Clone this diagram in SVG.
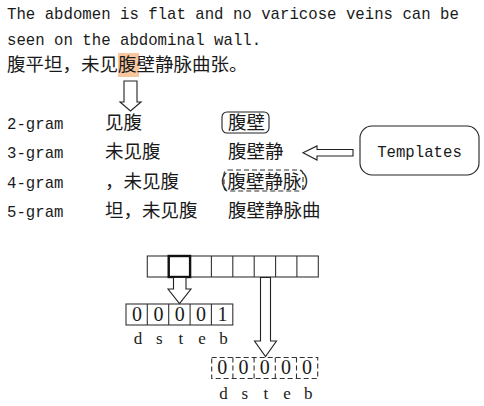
<svg xmlns="http://www.w3.org/2000/svg" width="484" height="406" viewBox="0 0 484 406">
<style>
.en{font-family:"Liberation Mono","DejaVu Sans Mono",monospace;font-size:15.7px;fill:#1a1a1a}
.zh{font-family:"Noto Sans CJK SC","Noto Sans CJK JP",sans-serif;font-size:18.5px;fill:#1a1a1a}
.dg{font-family:"Liberation Serif",serif;font-size:20px;fill:#1a1a1a;text-anchor:middle}
.lb{font-family:"Liberation Serif",serif;font-size:17px;fill:#1a1a1a;text-anchor:middle}
.arrow{fill:#fff;stroke:#222;stroke-width:1.1;stroke-linejoin:miter}
.cell{fill:#fff;stroke:#333;stroke-width:1.1}
.dash{fill:none;stroke:#333;stroke-width:1.1;stroke-dasharray:5,3}
</style>
<rect width="484" height="406" fill="#fff"/>
<g id="sentence">
<text class="en" x="7" y="18.5">The abdomen is flat and no varicose veins can be</text>
<text class="en" x="7" y="45">seen on the abdominal wall.</text>
<rect x="118" y="53" width="21" height="24" fill="#F8C79E"/>
<text class="zh" x="7" y="71">腹平坦，未见腹壁静脉曲张。</text>
</g>
<g id="ngram-labels">
<text class="en" x="7" y="128.5">2-gram</text>
<text class="en" x="7" y="158">3-gram</text>
<text class="en" x="7" y="187.5">4-gram</text>
<text class="en" x="7" y="217">5-gram</text>
</g>
<g id="left-ngrams">
<text class="zh" x="105" y="128.5">见腹</text>
<text class="zh" x="105" y="158">未见腹</text>
<text class="zh" x="105" y="187.5">，未见腹</text>
<text class="zh" x="105" y="217">坦，未见腹</text>
</g>
<g id="right-ngrams">
<rect x="222" y="112" width="47" height="21" rx="5" fill="none" stroke="#222" stroke-width="1.1"/>
<text class="zh" x="228" y="128.5">腹壁</text>
<text class="zh" x="228" y="158">腹壁静</text>
<rect x="224" y="170" width="79" height="21" rx="4" class="dash"/>
<text class="zh" x="209" y="187.5">（腹壁静脉）</text>
<text class="zh" x="228" y="217">腹壁静脉曲</text>
</g>
<g id="templates">
<rect x="360" y="126" width="119" height="49" rx="12" fill="#fff" stroke="#222" stroke-width="1.1"/>
<text class="en" x="419.5" y="156.5" text-anchor="middle">Templates</text>
</g>
<g id="char-grid">
<rect class="cell" x="147.3" y="256" width="171" height="21"/>
<path d="M168.7 256V277M190.1 256V277M211.4 256V277M232.8 256V277M254.2 256V277M275.6 256V277M296.9 256V277" stroke="#333" stroke-width="1.1" fill="none"/>
<rect x="168.7" y="256" width="21.4" height="21" fill="none" stroke="#111" stroke-width="2.4"/>
</g>
<g id="vector-1">
<rect class="cell" x="126" y="304" width="106.8" height="21"/>
<path d="M147.3 304V325M168.7 304V325M190.1 304V325M211.4 304V325" stroke="#333" stroke-width="1.1" fill="none"/>
<text class="dg" x="137" y="320.5">0</text>
<text class="dg" x="158.4" y="320.5">0</text>
<text class="dg" x="179.8" y="320.5">0</text>
<text class="dg" x="201.1" y="320.5">0</text>
<text class="dg" x="222.5" y="320.5">1</text>
<text class="lb" x="138" y="344">d</text>
<text class="lb" x="159.4" y="344">s</text>
<text class="lb" x="180.8" y="344">t</text>
<text class="lb" x="202.1" y="344">e</text>
<text class="lb" x="223.5" y="344">b</text>
</g>
<g id="vector-2">
<rect class="dash" x="211.7" y="357.5" width="106" height="21"/>
<path d="M232.9 357.5V378.5M254.1 357.5V378.5M275.3 357.5V378.5M296.5 357.5V378.5" class="dash"/>
<text class="dg" x="222.3" y="374">0</text>
<text class="dg" x="243.5" y="374">0</text>
<text class="dg" x="264.7" y="374">0</text>
<text class="dg" x="285.9" y="374">0</text>
<text class="dg" x="307.1" y="374">0</text>
<text class="lb" x="223.5" y="399">d</text>
<text class="lb" x="244.7" y="399">s</text>
<text class="lb" x="265.9" y="399">t</text>
<text class="lb" x="287.1" y="399">e</text>
<text class="lb" x="308.3" y="399">b</text>
</g>
<g id="connectors">
<polygon class="arrow" points="124,81 137,81 137,102 141,102 130.5,111 120,102 124,102"/>
<polygon class="arrow" points="353,149.5 353,156 317,156 317,160 303,152.8 317,146 317,149.5"/>
<polygon class="arrow" points="173.5,277.5 186,277.5 186,289 191,289 179.5,303.5 168,289 173.5,289"/>
<polygon class="arrow" points="260.5,277.5 270.5,277.5 270.5,341 276.5,341 265.5,356.5 254.5,341 260.5,341"/>
</g>
</svg>
